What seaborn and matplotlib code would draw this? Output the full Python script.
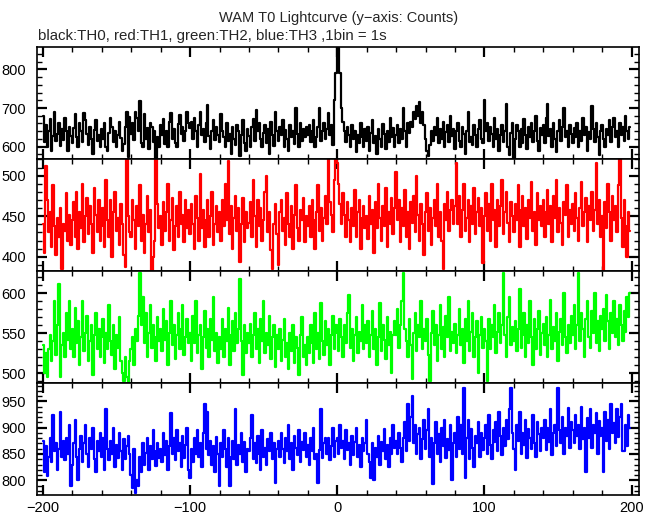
import numpy as np
import pandas as pd
import matplotlib
matplotlib.use("Agg")
import matplotlib.pyplot as plt
import seaborn as sns
from matplotlib.ticker import MultipleLocator

# ---------------- data (counts per 1 s bin, t = -200 ... 199 s) ----------------
th0 = (
    [680,612,655,598,640,672,589,628,690,615,633,660,602,645,618,675,640,590,652,628] +
    [610,648,685,625,598,660,640,612,688,670,633,605,650,620,580,642,668,615,630,598] +
    [645,620,662,600,588,635,675,650,612,640,598,630,665,622,590,608,652,690,572,678] +
    [632,660,618,690,675,640,718,610,598,685,620,648,595,660,650,612,640,568,625,600] +
    [655,630,672,608,640,598,665,688,620,645,610,600,658,682,632,650,615,640,690,662] +
    [648,665,620,675,640,600,655,690,630,645,612,660,708,628,595,640,670,618,652,630] +
    [612,685,640,625,598,660,615,632,580,650,620,605,655,640,575,630,668,610,590,645] +
    [628,600,650,672,615,695,640,660,620,598,635,655,610,645,580,665,630,602,690,640] +
    [615,650,630,668,600,642,620,590,655,625,640,608,700,632,598,660,615,645,625,650] +
    [630,655,612,640,670,598,625,650,700,615,640,660,620,645,688,630,655,605,720,790] +
    [860,855,790,700,665,640,612,650,630,598,655,620,640,585,630,610,660,625,600,645] +
    [615,650,590,635,668,610,628,580,645,620,600,658,632,595,640,612,675,625,648,600] +
    [630,655,610,645,620,700,640,600,660,635,665,650,690,672,705,680,715,660,690,655] +
    [620,590,575,605,640,615,650,630,675,610,645,620,665,600,638,655,612,680,628,645] +
    [595,640,662,615,600,650,632,580,640,690,612,625,605,655,630,598,645,668,620,610] +
    [722,640,660,615,650,632,600,675,620,645,590,630,655,612,640,710,600,578,635,660] +
    [568,620,655,640,600,645,610,672,630,595,650,625,660,612,640,680,615,590,648,630] +
    [655,610,675,710,628,645,600,660,620,585,640,668,615,650,700,625,640,598,655,632] +
    [610,648,625,660,600,640,615,675,630,652,590,638,620,705,645,612,660,625,578,640] +
    [655,620,600,645,630,668,612,650,675,625,640,598,662,630,650,615,680,640,620,650]
)

th1 = (
    [440,405,512,470,430,455,412,488,438,402,448,425,460,385,440,432,478,420,452,415] +
    [445,468,425,480,410,455,435,490,418,450,472,428,462,440,405,485,452,430,470,420] +
    [438,460,412,495,445,425,470,400,455,480,432,448,415,465,440,402,388,520,450,430] +
    [425,470,445,410,462,438,488,420,452,405,440,475,430,458,382,400,420,520,465,435] +
    [450,415,468,432,455,490,420,445,472,408,438,462,425,480,440,452,418,470,435,458] +
    [428,465,440,410,475,448,420,502,436,458,412,445,470,425,450,480,415,440,462,430] +
    [455,420,470,438,490,445,518,428,462,410,448,475,432,460,393,440,472,418,455,435] +
    [442,468,425,495,450,412,470,438,460,420,445,480,500,430,455,408,385,440,465,428] +
    [390,455,470,432,448,415,478,440,425,462,410,452,488,435,420,458,445,472,418,450] +
    [438,462,425,470,445,410,455,488,432,460,420,448,475,440,520,468,452,430,495,520] +
    [515,490,465,440,478,452,425,468,445,418,460,438,482,425,455,470,410,448,462,435] +
    [450,422,475,440,458,405,468,435,490,448,420,462,438,485,412,455,440,472,428,460] +
    [505,445,470,418,460,438,482,425,455,410,468,442,475,430,500,452,420,465,440,402] +
    [455,478,432,460,415,448,470,438,490,425,455,420,385,465,445,480,432,458,470,440] +
    [462,515,440,475,425,458,490,432,448,470,418,462,440,485,428,455,472,438,460,392] +
    [450,478,432,465,420,490,445,458,412,470,438,462,495,428,455,480,442,418,468,450] +
    [430,465,445,488,412,458,475,438,460,422,470,448,492,432,455,415,478,445,462,438] +
    [470,425,455,482,440,462,418,475,448,495,430,460,442,415,468,452,488,425,458,440] +
    [465,432,478,448,420,460,492,438,455,472,418,462,445,480,432,458,515,440,470,425] +
    [450,382,468,435,490,455,420,475,445,462,430,488,520,448,412,470,438,400,455,432]
)

th2 = (
    [535,500,525,495,530,548,515,540,590,522,560,612,495,535,550,520,575,542,590,530] +
    [555,520,582,538,565,510,545,590,528,550,572,515,540,560,498,548,575,530,555,520] +
    [545,568,512,550,530,585,540,522,560,505,548,532,570,515,500,490,520,495,488,515] +
    [530,545,510,555,540,572,625,560,595,538,575,520,550,585,532,560,545,515,570,540] +
    [555,528,580,542,565,510,550,590,535,560,518,548,575,530,555,585,522,545,568,538] +
    [550,515,572,538,590,525,548,560,505,545,578,532,555,520,568,542,595,528,550,512] +
    [545,530,568,520,555,540,582,510,548,565,528,575,538,555,618,540,498,560,525,550] +
    [538,562,520,548,575,530,555,512,568,540,590,525,550,535,572,518,545,560,508,548] +
    [530,555,515,542,568,520,538,505,550,528,560,512,545,532,498,548,570,520,535,510] +
    [545,525,560,538,512,575,530,550,518,588,540,522,565,535,555,510,548,572,530,560] +
    [550,528,568,545,520,560,538,575,598,532,555,515,548,570,525,552,540,585,530,560] +
    [538,565,520,548,578,530,555,510,545,588,528,560,542,518,570,535,552,500,548,565] +
    [548,580,532,560,590,625,555,540,520,568,535,492,550,575,528,560,545,590,530,555] +
    [540,568,522,490,550,578,535,560,515,548,585,530,558,520,572,545,595,528,552,538] +
    [562,525,548,580,535,555,512,568,540,590,528,552,575,520,545,565,500,548,570,532] +
    [555,540,490,568,530,560,545,585,525,552,575,538,560,625,548,520,570,595,535,558] +
    [540,565,528,555,605,532,548,575,520,560,538,590,545,510,568,530,555,578,522,550] +
    [562,535,570,520,548,592,530,558,540,575,515,552,568,535,600,545,525,560,538,572] +
    [548,585,530,560,625,540,575,555,520,568,590,545,532,578,550,600,538,565,528,572] +
    [555,580,540,598,565,530,575,550,590,545,568,535,585,560,540,578,552,595,570,600]
)

th3 = (
    [875,815,865,808,845,880,835,925,855,870,820,860,930,845,875,838,880,850,905,790] +
    [830,870,915,845,800,860,885,835,870,905,850,825,880,860,900,840,815,875,855,890] +
    [845,880,820,935,860,838,875,850,900,825,868,842,890,855,820,878,840,865,885,850] +
    [810,785,860,775,800,790,845,815,870,830,852,880,820,865,840,895,855,828,870,842] +
    [860,835,890,848,875,820,865,928,850,880,838,895,855,870,825,885,842,868,900,820] +
    [805,860,835,880,850,895,845,870,825,890,945,860,930,848,875,830,865,815,882,850] +
    [790,870,845,895,860,825,880,790,845,875,840,935,830,868,850,890,835,872,815,860] +
    [855,880,925,840,870,832,885,850,820,895,845,862,830,878,855,890,840,870,795,860] +
    [875,845,890,860,832,880,855,905,840,870,820,885,862,848,895,835,872,858,890,845] +
    [868,830,880,855,900,840,850,795,858,935,842,870,880,850,880,838,865,900,845,875] +
    [880,850,905,862,875,840,895,858,870,830,885,848,872,900,845,868,825,880,855,870] +
    [915,850,835,805,870,800,862,845,885,830,872,855,898,840,868,825,880,850,905,862] +
    [875,850,890,862,835,880,910,855,945,875,920,960,870,905,850,888,900,840,878,915] +
    [860,895,935,845,880,792,870,910,850,888,835,900,865,915,842,878,858,905,800,870] +
    [890,845,920,860,905,850,975,805,880,915,840,898,862,825,885,870,910,845,890,858] +
    [880,905,850,925,868,840,895,872,910,855,930,885,848,900,865,915,878,935,975,890] +
    [860,820,905,875,930,850,890,868,915,842,898,880,860,925,870,845,910,888,855,900] +
    [880,915,858,900,872,935,848,890,905,865,975,895,870,920,850,900,885,938,862,910] +
    [895,870,925,885,905,860,940,878,900,815,918,880,935,862,905,890,928,850,912,885] +
    [900,815,930,875,915,860,945,890,908,870,935,882,920,945,855,856,905,865,925,900]
)

bands = ["TH0", "TH1", "TH2", "TH3"]
band_values = [th0, th1, th2, th3]
band_colors = ["#000000", "#ff0000", "#00ff00", "#0000ff"]
ylims = [(568, 858), (382.5, 520.5), (487.5, 628), (772, 985)]
y_major = [100, 50, 50, 50]
y_minor = [20, 10, 10, 10]

title = "WAM T0 Lightcurve (y\u2212axis: Counts)"
subtitle = "black:TH0, red:TH1, green:TH2, blue:TH3 ,1bin = 1s"

frames = []
for name, vals in zip(bands, band_values):
    t = np.arange(-200, -200 + len(vals))
    frames.append(pd.DataFrame({"time": t, "counts": vals, "band": name}))
df = pd.concat(frames, ignore_index=True)

# ---------------- style ----------------
sns.set_style("white")
plt.rcParams["font.family"] = ["Liberation Sans", "DejaVu Sans"]
plt.rcParams["font.size"] = 10.5

fig, axes = plt.subplots(4, 1, figsize=(6.6, 5.15), dpi=100, sharex=True)
fig.subplots_adjust(left=37 / 660, right=639 / 660, top=1 - 47 / 515,
                    bottom=1 - 495 / 515, hspace=0)

for i, (ax, name, col) in enumerate(zip(axes, bands, band_colors)):
    sub = df[df["band"] == name]
    sns.lineplot(data=sub, x="time", y="counts", color=col, ax=ax,
                 estimator=None, drawstyle="steps-mid", linewidth=1.6)
    ax.set_xlim(-204, 205)
    ax.set_ylim(*ylims[i])
    ax.set_xlabel("")
    ax.set_ylabel("")
    ax.xaxis.set_major_locator(MultipleLocator(100))
    ax.xaxis.set_minor_locator(MultipleLocator(20))
    ax.yaxis.set_major_locator(MultipleLocator(y_major[i]))
    ax.yaxis.set_minor_locator(MultipleLocator(y_minor[i]))
    ax.tick_params(which="both", direction="in", top=True, right=True,
                   bottom=True, left=True, colors="black", labelsize=10.5)
    ax.tick_params(axis="y", which="major", pad=8)
    ax.tick_params(axis="x", which="major", pad=4)
    ax.tick_params(which="major", length=7, width=1.6)
    ax.tick_params(which="minor", length=3.5, width=1.0)
    for sp in ax.spines.values():
        sp.set_visible(True)
        sp.set_color("black")
        sp.set_linewidth(1.2)
    if i < 3:
        ax.tick_params(labelbottom=False)

fig.text(339 / 660, 1 - 18 / 515, title, ha="center", va="center", fontsize=10.5)
fig.text(38 / 660, 1 - 36 / 515, subtitle, ha="left", va="center", fontsize=10.8)

fig.savefig("out.png", dpi=100, facecolor="white")
